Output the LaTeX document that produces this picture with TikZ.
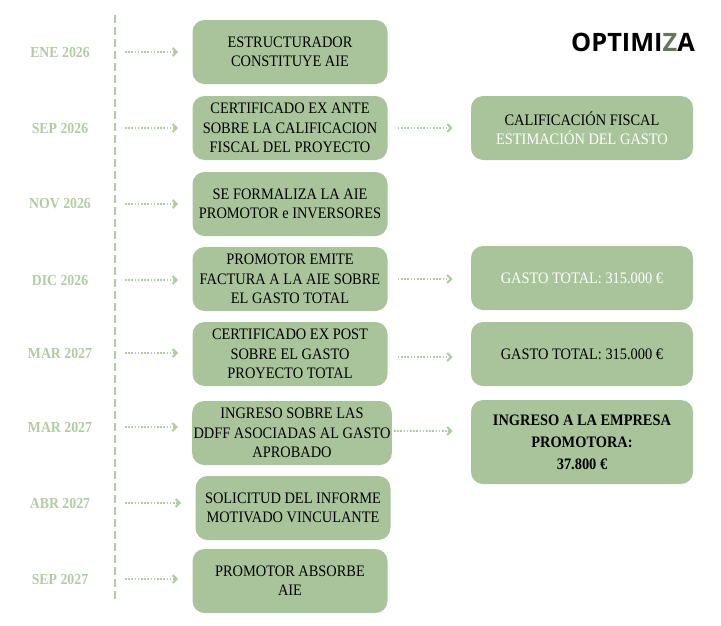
\documentclass[tikz,border=0pt]{standalone}
\usepackage{fontspec}
\setmainfont{Liberation Serif}[FakeStretch=0.9]
\newfontfamily\logofont{Open Sans}
\usetikzlibrary{positioning,arrows.meta}
\definecolor{sage}{HTML}{A9C49A}
\definecolor{datecol}{HTML}{B3CBA3}
\newlength{\px}\setlength{\px}{0.75pt}
\tikzset{
  stepbox/.style={draw=none, fill=sage, rounded corners=9pt, minimum width=195\px, minimum height=64\px, inner xsep=1pt, align=center, font=\fontsize{12}{14.5}\selectfont},
  resbox/.style={stepbox, minimum width=222\px},
  date/.style={text=datecol, font=\fontsize{11.5}{13}\selectfont\bfseries},
  dots/.style={datecol, line width=1.6pt, dash pattern=on 1.2pt off 1.2pt, -{Straight Barb[length=3pt,width=6pt]}},
}
\begin{document}
\begin{tikzpicture}[x=\px, y=-\px]
        \useasboundingbox (0,0) rectangle (721,625);
        % time line
        \draw[datecol, line width=1.4pt, dash pattern=on 6pt off 3pt] (115,15) -- (115,600);

        \node[stepbox] (s1) at (290,52)  {ESTRUCTURADOR\\CONSTITUYE AIE};
        \node[stepbox] (s2) at (290,128) {CERTIFICADO EX ANTE\\SOBRE LA CALIFICACION\\FISCAL DEL PROYECTO};
        \node[stepbox] (s3) at (290,204) {SE FORMALIZA LA AIE\\PROMOTOR e INVERSORES};
        \node[stepbox] (s4) at (290,279) {PROMOTOR EMITE\\FACTURA A LA AIE SOBRE\\EL GASTO TOTAL};
        \node[stepbox] (s5) at (290,354) {CERTIFICADO EX POST\\SOBRE EL GASTO\\PROYECTO TOTAL};
        \node[stepbox] (s6) at (292,433) {INGRESO SOBRE LAS\\DDFF ASOCIADAS AL GASTO\\APROBADO};
        \node[stepbox] (s7) at (293,508) {SOLICITUD DEL INFORME\\MOTIVADO VINCULANTE};
        \node[stepbox] (s8) at (290,581) {PROMOTOR ABSORBE\\AIE};

        \node[resbox] (r2) at (582,128) {CALIFICACIÓN FISCAL\\\textcolor{white}{ESTIMACIÓN DEL GASTO}};
        \node[resbox] (r4) at (582,278) {\textcolor{white}{GASTO TOTAL: 315.000 €}};
        \node[resbox] (r5) at (582,354) {GASTO TOTAL: 315.000 €};
        \node[resbox, minimum height=84\px, font=\fontsize{12}{16.5}\selectfont\bfseries] (r6) at (582,442) {INGRESO A LA EMPRESA\\PROMOTORA:\\37.800 €};

        % dates
        \foreach \d/\t/\y in {1/ENE 2026/52, 2/SEP 2026/128, 3/NOV 2026/204, 4/DIC 2026/280,
                             5/MAR 2027/353, 6/MAR 2027/427, 7/ABR 2027/503, 8/SEP 2027/579} {
            \node[date] (d\d) at (60,\y) {\t};
            \coordinate (a\d) at (125,\y);
            \draw[dots] (a\d) -- ([xshift=-14\px]a\d -| s\d.west);
        }

        % results
        \path (s2.east) ++(10\px,0) coordinate (b2);
        \path (s4.east) ++(10\px,0) coordinate (b4);
        \path (s5.east) ++(10\px,-3\px) coordinate (b5);
        \path (s6.east) ++(2\px,2\px) coordinate (b6);
        \draw[dots] (b2) -- ([xshift=-18\px]b2 -| r2.west);
        \draw[dots] (b4) -- ([xshift=-18\px]b4 -| r4.west);
        \draw[dots] (b5) -- ([xshift=-18\px]b5 -| r5.west);
        \draw[dots] (b6) -- ([xshift=-18\px]b6 -| r6.west);

        \node[font=\logofont\bfseries\fontsize{19}{19}\selectfont, anchor=east, inner sep=0pt] (logo) at (695,42) {OPTIMI\textcolor{sage!60!black}{Z}A};
\end{tikzpicture}
\end{document}
